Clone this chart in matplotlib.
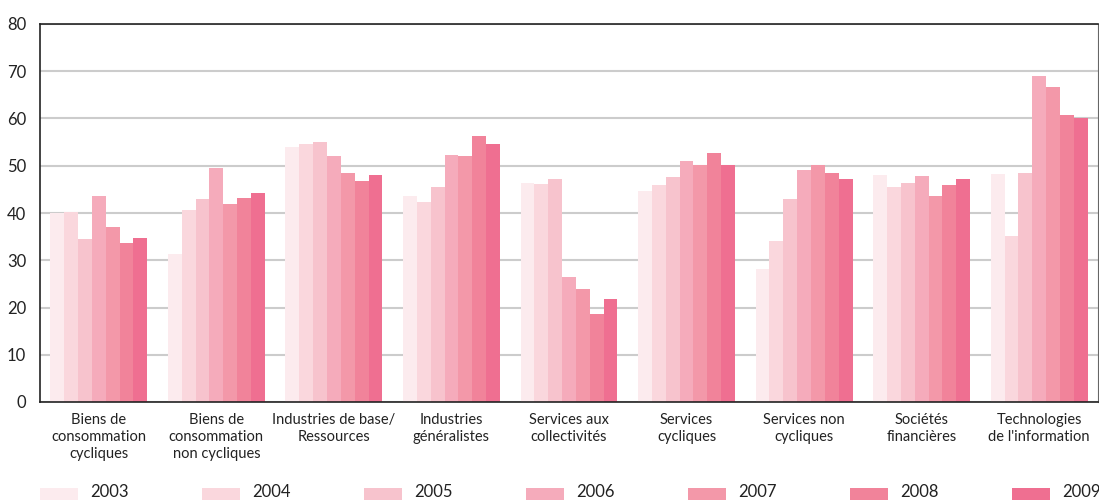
import matplotlib
matplotlib.use('Agg')
import matplotlib.pyplot as plt
from matplotlib.patches import Rectangle
import numpy as np

plt.rcParams['font.family'] = ['Lato', 'DejaVu Sans']

categories = [
    'Biens de\nconsommation\ncycliques',
    'Biens de\nconsommation\nnon cycliques',
    'Industries de base/\nRessources',
    'Industries\ngénéralistes',
    'Services aux\ncollectivités',
    'Services\ncycliques',
    'Services non\ncycliques',
    'Sociétés\nfinancières',
    "Technologies\nde l'information",
]
years = ['2003', '2004', '2005', '2006', '2007', '2008', '2009']

# values per year, one per category
v2003 = [40.0, 31.4, 54.0, 43.5, 46.4, 44.7, 28.2, 48.1, 48.3]
v2004 = [40.3, 40.7, 54.5, 42.4, 46.2, 46.0, 34.1, 45.4, 35.2]
v2005 = [34.6, 43.0, 55.1, 45.4, 47.3, 47.7, 43.0, 46.4, 48.5]
v2006 = [43.5, 49.6, 52.1, 52.3, 26.5, 51.1, 49.0, 47.9, 68.9]
v2007 = [37.1, 41.8, 48.5, 52.1, 24.0, 50.1, 50.2, 43.7, 66.7]
v2008 = [33.7, 43.2, 46.8, 56.2, 18.7, 52.6, 48.5, 46.0, 60.8]
v2009 = [34.8, 44.3, 48.1, 54.5, 21.9, 50.2, 47.1, 47.3, 60.2]
series = [v2003, v2004, v2005, v2006, v2007, v2008, v2009]

colors = ['#fcebee', '#fad7dd', '#f7c3cd', '#f5abbb', '#f398a9', '#f1839a', '#ef6f91']

fig = plt.figure(figsize=(10.99, 5.0), dpi=100)
ax = fig.add_axes([40 / 1099, 1 - 402 / 500, 1058 / 1099, 378 / 500])

x = np.arange(len(categories))
n = len(series)
group_w = 0.825
bw = group_w / n
for i, (vals, col) in enumerate(zip(series, colors)):
    ax.bar(x - group_w / 2 + bw * (i + 0.5), vals, width=bw, color=col, zorder=2, linewidth=0)

ax.set_xlim(-0.5, len(categories) - 0.5)
ax.set_ylim(0, 80)
ax.set_yticks(range(0, 81, 10))
ax.yaxis.grid(True, color='#cccccc', linewidth=1.5, zorder=0)
ax.set_axisbelow(True)
for s in ['left', 'bottom', 'top']:
    ax.spines[s].set_color('#222222')
    ax.spines[s].set_linewidth(1.2)
ax.spines['right'].set_color('#666666')
ax.tick_params(axis='y', length=0, pad=10, labelsize=12, labelcolor='#222222')
ax.tick_params(axis='x', length=0, pad=8, labelsize=10.5, labelcolor='#222222')
ax.set_xticks(x)
ax.set_xticklabels(categories, linespacing=1.25)

# legend along the bottom
for i, (yr, col) in enumerate(zip(years, colors)):
    x0 = 40 + 162 * i
    fig.add_artist(Rectangle((x0 / 1099, 0), 38 / 1099, 12 / 500,
                             transform=fig.transFigure, color=col, lw=0))
    fig.text((x0 + 50) / 1099, 8 / 500, yr, fontsize=12, color='#222222',
             va='center', ha='left')

fig.savefig('out.png', dpi=100)
